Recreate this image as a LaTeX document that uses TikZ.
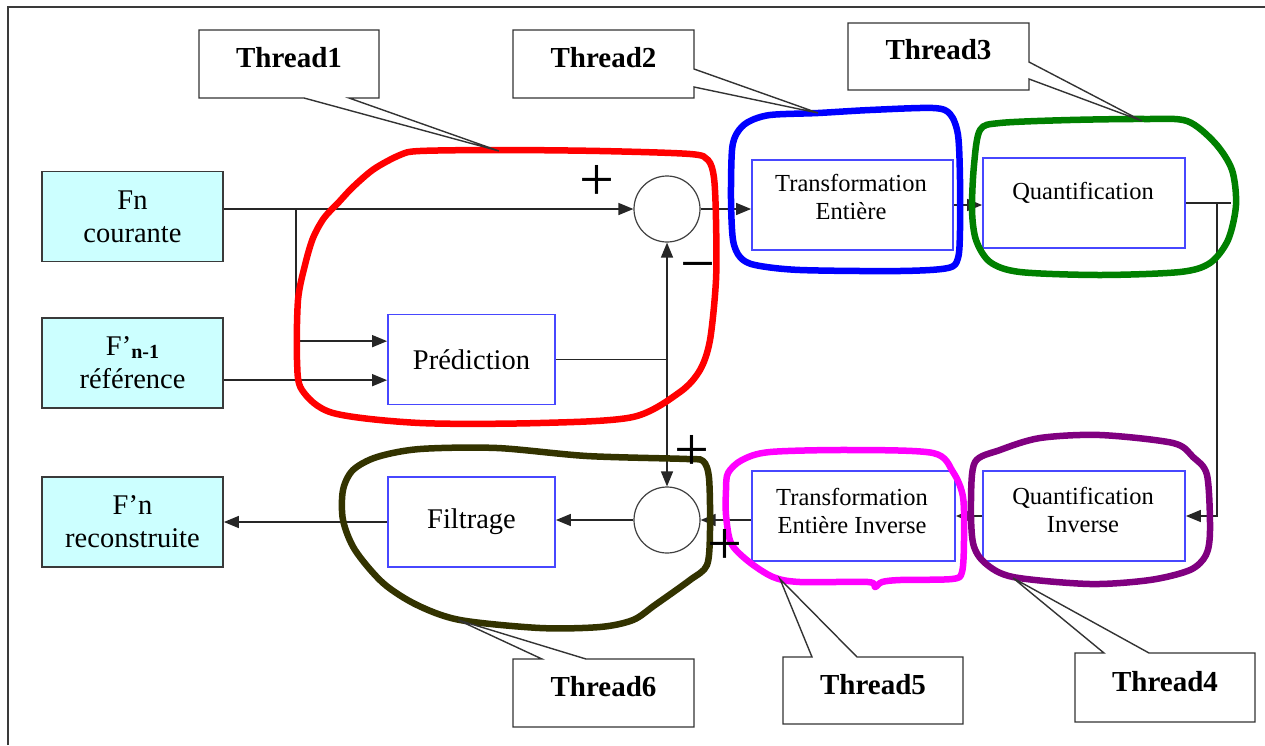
\documentclass[tikz,border=0pt]{standalone}
\usepackage{fontspec}
\setmainfont{Liberation Serif}
\usetikzlibrary{arrows.meta,calc}

\definecolor{cyanfill}{HTML}{CCFFFF}
\definecolor{boxblue}{HTML}{4747FF}
\definecolor{edgegray}{HTML}{3A3A3A}
\definecolor{olivedark}{HTML}{333300}
\definecolor{purplet}{HTML}{800080}
\definecolor{greent}{HTML}{008000}
\definecolor{redt}{HTML}{FF0000}
\definecolor{bluet}{HTML}{0000FF}
\definecolor{magentat}{HTML}{FF00FF}

\tikzset{
  conn/.style={draw=black!85, line width=1.5pt},
  arr/.style={conn, -{Triangle[length=15pt,width=12pt]}},
  srcbox/.style={draw=edgegray, line width=1.8pt, fill=cyanfill, minimum width=181pt,
    minimum height=90pt, inner sep=0pt, align=center, font=\fontsize{28.5}{33}\selectfont},
  procbox/.style={draw=boxblue, line width=1.8pt, fill=white, inner sep=0pt, minimum height=90pt},
  bigtxt/.style={align=center, inner sep=0pt, font=\fontsize{28.5}{33}\selectfont},
  smalltxt/.style={align=center, inner sep=0pt, font=\fontsize{24.5}{28}\selectfont},
  summer/.style={circle, draw=black!75, line width=1.2pt, fill=white, minimum size=66pt, inner sep=0pt},
  threadloop/.style={line width=6.5pt, line join=round},
  callout/.style={draw=black!80, line width=1.4pt, fill=white},
  threadtxt/.style={inner sep=0pt, font=\fontsize{29}{33}\selectfont\bfseries},
  sign/.style={inner sep=0pt, font=\fontsize{62}{62}\selectfont},
}

\begin{document}
\begin{tikzpicture}[x=1pt, y=-1pt]
\useasboundingbox (0,0) rectangle (1265,745);
\fill[white] (0,0) rectangle (1265,745);

% outer frame
\draw[edgegray, line width=1.5pt] (8,745) -- (8,7) -- (1265,7);

% source / output frames
\node[srcbox] (fn)    at (132.5,216.5) {Fn\\courante};
\node[srcbox] (ref)   at (132.5,363)   {F’\raisebox{-3pt}{\fontsize{20}{20}\selectfont\bfseries n-1}\\référence};
\node[srcbox] (recon) at (132.5,522)   {F’n\\reconstruite};

% processing blocks
\node[procbox, minimum width=167pt, bigtxt] (pred) at (471.5,359.5) {Prédiction};
\node[procbox, minimum width=167pt, bigtxt] (filt) at (471.5,522)   {Filtrage};
\node[procbox, minimum width=201pt] (te)    at (852.5,205) {};
\node[procbox, minimum width=202pt] (quant) at (1084,203)  {};
\node[procbox, minimum width=202pt] (qinv)  at (1084,516)  {};
\node[procbox, minimum width=203pt] (tei)   at (853.5,516) {};
\node[smalltxt] (te-t)    at (851,197)  {Transformation\\Entière};
\node[smalltxt] (quant-t) at (1083,193) {Quantification};
\node[smalltxt] (qinv-t)  at (1083,510) {Quantification\\Inverse};
\node[smalltxt] (tei-t)   at (852,511)  {Transformation\\Entière Inverse};

% summing junctions
\node[summer] (sum1) at (667,209) {};
\node[summer] (sum2) at (667,520) {};

% connectors
\coordinate (branch) at (296,209);
\coordinate (pin1) at ($(pred.north west)!0.3!(pred.south west)$);
\coordinate (pin2) at ($(pred.north west)!0.725!(pred.south west)$);
\coordinate (jn) at (sum1.south |- pred.east);

\draw[arr] (fn.east |- sum1.west) -- (sum1.west);
\draw[arr] (branch) |- (pin1);
\draw[arr] (ref.east |- pin2) -- (pin2);
\draw[conn] (pred.east) -- (jn);
\draw[arr] (jn) -- (sum1.south);
\draw[arr] (jn) -- (sum2.north);
\draw[arr] (sum1.east) -- (te.west |- sum1.east);
\draw[arr] (te.east) -- (quant.west |- te.east);
\draw[conn] (quant.east) -- ++(45,0);
\draw[arr] ($(quant.east)+(31,0)$) |- (qinv.east);
\draw[arr] (qinv.west) -- (tei.east);
\draw[arr] (tei.west |- sum2.east) -- (sum2.east);
\draw[arr] (sum2.west) -- (filt.east |- sum2.west);
\draw[arr] (filt.west) -- (recon.east);

% thread groupings
\draw[threadloop, redt] plot[smooth cycle, tension=0.5] coordinates {
  (420,151) (500,150) (600,151) (690,154) (708,160) (714,178) (716,220) (716,280)
  (710,340) (700,370) (680,392) (633,417) (540,423) (420,423) (333,413) (302,390)
  (297,360) (298,300) (305,265) (313,238) (324,218) (338,203) (353,187) (374,169) (400,155)};
\draw[threadloop, bluet] plot[smooth cycle, tension=0.5] coordinates {
  (818,113) (870,110) (933,108) (950,114) (958,135) (960,180) (960,230) (958,258)
  (948,268) (900,271) (800,270) (755,265) (740,257) (733,240) (731,200) (732,150)
  (737,133) (748,122) (770,115)};
\draw[threadloop, greent] plot[smooth cycle, tension=0.5] coordinates {
  (980,130) (1000,123) (1070,120) (1145,119) (1187,121) (1215,143) (1232,170)
  (1236,205) (1228,240) (1210,263) (1180,272) (1100,275) (1020,272) (990,262)
  (976,240) (972,210) (974,165)};
\draw[threadloop, purplet] plot[smooth cycle, tension=0.5] coordinates {
  (975,462) (1000,450) (1040,438) (1100,435) (1173,443) (1193,457) (1207,475)
  (1210,530) (1206,555) (1190,570) (1150,580) (1090,584) (1013,577) (985,563)
  (973,543) (971,500)};
\draw[threadloop, magentat] plot[smooth cycle, tension=0.5] coordinates {
  (728,473) (742,460) (770,452) (850,450) (933,453) (953,472) (963,497) (964,540)
  (962,572) (952,579) (900,580) (882,582) (875,587) (868,582) (800,582) (773,577)
  (748,561) (731,543) (726,515) (726,490)};
\draw[threadloop, olivedark] plot[smooth cycle, tension=0.5] coordinates {
  (420,449) (497,448) (587,456) (687,459) (703,461) (709,478) (710,530) (707,565)
  (690,580) (655,605) (633,620) (600,627) (540,628) (460,620) (417,605) (383,583)
  (355,550) (343,520) (343,490) (353,470) (377,457)};

% thread callouts
\draw[callout] (199,30) -- (379,30) -- (379,98) -- (349,98) -- (499,151) -- (304,98) -- (199,98) -- cycle;
\node[threadtxt] (th1) at (289,58) {Thread1};
\draw[callout] (513,30) -- (694,30) -- (694,69) -- (818,113) -- (694,87) -- (694,98) -- (513,98) -- cycle;
\node[threadtxt] (th2) at (603.5,58) {Thread2};
\draw[callout] (848,23) -- (1029,23) -- (1029,62) -- (1142,121) -- (1029,79) -- (1029,90) -- (848,90) -- cycle;
\node[threadtxt] (th3) at (938.5,50) {Thread3};
\draw[callout] (513,659) -- (542,659) -- (458,620) -- (586,659) -- (694,659) -- (694,727) -- (513,727) -- cycle;
\node[threadtxt] (th6) at (603.5,687) {Thread6};
\draw[callout] (783,657) -- (812,657) -- (780,579) -- (857,657) -- (963,657) -- (963,724) -- (783,724) -- cycle;
\node[threadtxt] (th5) at (873,685) {Thread5};
\draw[callout] (1075,653) -- (1104,653) -- (1013,578) -- (1149,653) -- (1255,653) -- (1255,722) -- (1075,722) -- cycle;
\node[threadtxt] (th4) at (1165,682) {Thread4};

% signs at the summing junctions
\node[sign] (s1p) at (597,183) {+};
\node[sign] (s1m) at (698,273) {−};
\node[sign] (s2p) at (692,453) {+};
\node[sign] (s2q) at (725,547) {+};
\end{tikzpicture}
\end{document}
